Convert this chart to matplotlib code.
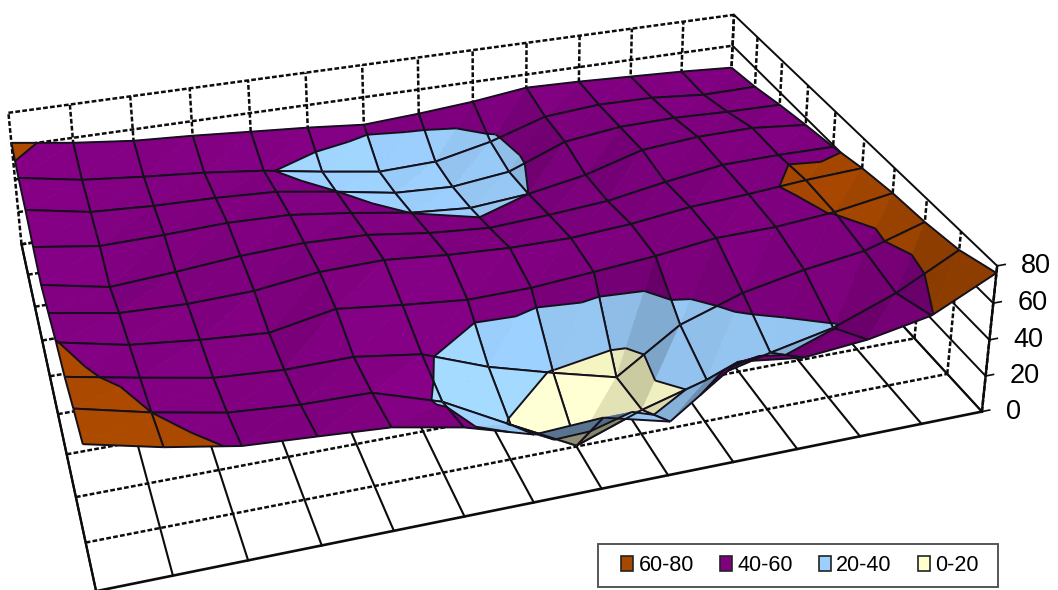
import numpy as np
import matplotlib
matplotlib.use("Agg")
import matplotlib.pyplot as plt
from matplotlib.patches import Patch, Rectangle
from mpl_toolkits.mplot3d.art3d import Poly3DCollection, Line3DCollection

plt.rcParams['font.family'] = ['Liberation Sans', 'DejaVu Sans']

# surface values: rows run front (y=0) to back (y=9), columns left to right
z_row0 = [73.6, 65.0, 58.5, 56.2, 53.8, 46.8, 36.1, 38.0, 29.0, 54.1, 49.7, 52.9, 59.5, 76.2]
z_row1 = [68.8, 60.0, 53.0, 50.3, 49.7, 38.2, 19.0, 0.5, 13.3, 23.2, 31.6, 39.0, 52.0, 69.8]
z_row2 = [63.3, 56.2, 49.5, 47.1, 47.5, 42.4, 29.0, 19.1, 10.0, 33.1, 44.8, 51.7, 56.5, 67.0]
z_row3 = [60.3, 52.6, 48.9, 46.3, 53.1, 49.1, 45.8, 46.4, 49.3, 52.4, 56.8, 57.4, 60.3, 65.7]
z_row4 = [55.8, 49.6, 48.4, 49.5, 54.0, 54.8, 51.8, 50.0, 49.9, 52.3, 56.5, 58.5, 61.3, 63.0]
z_row5 = [51.6, 44.4, 46.9, 50.0, 51.6, 50.5, 45.9, 43.2, 45.2, 47.9, 53.7, 58.5, 59.2, 58.9]
z_row6 = [53.9, 48.7, 49.3, 50.6, 49.6, 45.2, 39.8, 37.1, 40.0, 46.1, 55.9, 58.7, 59.1, 55.9]
z_row7 = [56.9, 50.2, 48.2, 47.4, 45.6, 40.2, 34.1, 32.4, 36.3, 49.5, 53.6, 54.2, 53.0, 52.5]
z_row8 = [58.1, 51.6, 48.1, 45.2, 41.1, 35.2, 29.9, 30.9, 38.2, 48.9, 51.5, 51.0, 48.1, 48.4]
z_row9 = [62.1, 57.0, 53.1, 51.1, 48.5, 46.0, 42.8, 44.8, 47.5, 51.6, 50.7, 49.2, 47.7, 45.6]
z_ticks = [0, 20, 40, 60, 80]
band_labels = ['60-80', '40-60', '20-40', '0-20']
band_colors = ['#A84800', '#800080', '#9CCFFD', '#FFFFCC']
band_limits = [(60, 80), (40, 60), (20, 40), (0, 20)]

Z = np.array([z_row0, z_row1, z_row2, z_row3, z_row4, z_row5, z_row6, z_row7, z_row8, z_row9], float)
nrow, ncol = Z.shape

# camera calibration: axis positions (x, y, z) and where the box corners sit in the image
front_u = [95, 172, 246, 319, 391, 462, 535, 604, 670, 734, 798, 860, 921, 981]
front_v = [590, 577, 560, 546, 531, 517, 503, 489, 475, 462, 449, 435, 423, 410]
back_u = [10, 70, 130, 190, 247, 304, 360, 415, 468, 522, 581, 634, 683, 735]
back_v = [112, 105, 97, 88, 81, 73, 66, 57, 50, 43, 35, 28, 22, 15]
side_u = [996, 961, 926, 895, 865, 835, 809, 782, 757, 735]
side_v = [267, 230, 198, 168, 140, 112, 86, 62, 37, 15]
axis_u = [981, 986, 990, 993, 996]
axis_v = [410, 376, 338, 302, 267]
world, image = [], []
for i in range(ncol):
    world.append((i, 0, 0)); image.append((front_u[i], front_v[i]))
    world.append((i, 9, 80)); image.append((back_u[i], back_v[i]))
for j in range(nrow):
    world.append((13, j, 80)); image.append((side_u[j], side_v[j]))
for k, t in enumerate(z_ticks):
    world.append((13, 0, t)); image.append((axis_u[k], axis_v[k]))
for w_, im_ in [((0, 1, 0), (86, 544)), ((0, 2, 0), (77, 498)), ((0, 3, 0), (68, 455)),
                ((13, 1, 0), (946, 375)), ((13, 2, 0), (913, 340)),
                ((13, 9, 60), (735, 47)), ((0, 9, 60), (14, 142)),
                ((0, 0, 73.6), (82, 445)), ((0, 3, 60.6), (57, 342)), ((0, 6, 53.9), (35, 247)),
                ((9, 3, 52.4), (660, 256)), ((6, 4, 51.8), (452, 255)), ((11, 2, 51.7), (808, 270))]:
    world.append(w_); image.append(im_)

A, b = [], []
for (x, y, z), (u, v) in zip(world, image):
    A.append([x, y, z, 1, 0, 0, 0, 0, -u * x, -u * y, -u * z]); b.append(u)
    A.append([0, 0, 0, 0, x, y, z, 1, -v * x, -v * y, -v * z]); b.append(v)
p = np.linalg.lstsq(np.array(A, float), np.array(b, float), rcond=None)[0]
P = np.append(p, 1.0).reshape(3, 4)
if P[2] @ np.array([6, 4, 40, 1]) < 0:
    P = -P
P = P / (P[2] @ np.array([6, 4, 40, 1]))
camera = -np.linalg.solve(P[:, :3], P[:, 3])

W, H = 1058, 590
fig = plt.figure(figsize=(W / 100, H / 100), dpi=100, facecolor='white')
ax = fig.add_axes([0, 0, 1, 1], projection='3d', computed_zorder=False)
ax.set_axis_off()
ax.patch.set_visible(False)


def get_proj():
    T = np.linalg.inv(ax.transData.get_affine().get_matrix())
    disp = np.vstack([P[0], H * P[2] - P[1], P[2]])
    q = T @ disp
    return np.vstack([q[0], q[1], [0, 0, 0, -1], q[2]])


ax.get_proj = get_proj


def project(pt):
    h = P @ np.append(pt, 1.0)
    return h[:2] / h[2]


def line(xs, ys, zs, dashed=False, lw=1.5, z=1):
    style = dict(color='#0c0c0c', lw=lw, zorder=z, clip_on=False)
    if dashed:
        style['linestyle'] = (0, (1.9, 0.9))
        style['lw'] = 1.8
    ax.plot(xs, ys, zs, **style)


# back wall, right wall and floor
for t in z_ticks:
    line([0, ncol - 1], [nrow - 1, nrow - 1], [t, t], dashed=True)
    line([ncol - 1, ncol - 1], [0, nrow - 1], [t, t], lw=1.4)
for i in range(ncol):
    line([i, i], [nrow - 1, nrow - 1], [0, 80], dashed=True)
    line([i, i], [0, nrow - 1], [0, 0], lw=1.5)
for j in range(nrow):
    line([ncol - 1, ncol - 1], [j, j], [0, 80], dashed=True)
    if j > 0:
        line([0, ncol - 1], [j, j], [0, 0], dashed=True)
line([0, ncol - 1], [0, 0], [0, 0], lw=1.9)
line([0, 0], [0, nrow - 1], [0, 0], lw=1.7)
line([ncol - 1, ncol - 1], [0, 0], [0, 80], lw=1.7)
for t in z_ticks:
    line([ncol - 1, ncol - 0.87], [0, 0], [t, t], lw=1.2)
    u, v = project(np.array([ncol - 1, 0, t], float))
    fig.text((u + 24) / W, 1 - v / H, str(t), fontsize=19.5, ha='left', va='center')


def clip_band(poly, lo, hi):
    for lim, sign in ((lo, 1), (hi, -1)):
        out = []
        n = len(poly)
        for i in range(n):
            a, c = poly[i], poly[(i + 1) % n]
            da, dc = sign * (a[2] - lim), sign * (c[2] - lim)
            if da >= 0:
                out.append(a)
            if da * dc < 0:
                out.append(a + (c - a) * da / (da - dc))
        poly = out
        if len(poly) < 3:
            return []
    return poly


light = np.array([0.45, -0.2, 0.87])
light = light / np.linalg.norm(light)


def shade(tri):
    s = np.array(tri, float)
    s[:, 2] /= 35.0
    n = np.cross(s[1] - s[0], s[2] - s[0])
    n = n / np.linalg.norm(n)
    if n[2] < 0:
        n = -n
    f = 1 + 0.5 * (n @ light - light[2])
    a, c, d = [project(v) for v in tri]
    flat = [project(np.array([v[0], v[1], 0.0])) for v in tri]
    area = np.cross(c - a, d - a)
    area0 = np.cross(flat[1] - flat[0], flat[2] - flat[0])
    if area * area0 < 0:
        f *= 0.72
    return float(np.clip(f, 0.45, 1.06))


cells = [(i, j) for j in range(nrow - 1) for i in range(ncol - 1)]
cells.sort(key=lambda c: -np.hypot(c[0] + 0.5 - camera[0], c[1] + 0.5 - camera[1]))
rgb = [np.array(matplotlib.colors.to_rgb(c)) for c in band_colors]

for order, (i, j) in enumerate(cells):
    corners = [np.array([i + a, j + b_, Z[j + b_, i + a]], float) for a, b_ in ((0, 0), (1, 0), (1, 1), (0, 1))]
    tris = [(corners[0], corners[1], corners[2]), (corners[0], corners[2], corners[3])]
    polys, colors = [], []
    segs = [[corners[k], corners[(k + 1) % 4]] for k in range(4)]
    for tri in tris:
        f = shade(tri)
        for (lo, hi), col in zip(band_limits, rgb):
            part = clip_band(list(tri), lo, hi)
            if part:
                polys.append([tuple(v) for v in part])
                colors.append(tuple(np.clip(col * f, 0, 1)))
        for level in (20.0, 40.0, 60.0):
            pts = []
            for k in range(3):
                a, c = tri[k], tri[(k + 1) % 3]
                da, dc = a[2] - level - 1e-3, c[2] - level - 1e-3
                if da * dc < 0:
                    pts.append(a + (c - a) * da / (da - dc))
            if len(pts) == 2:
                segs.append(pts)
    col = Poly3DCollection(polys, facecolors=colors, edgecolors=colors, linewidths=0.5)
    col.set_zorder(10 + 2 * order)
    col.set_clip_on(False)
    ax.add_collection3d(col, autolim=False)
    mesh = Line3DCollection(segs, colors='#14101c', linewidths=1.4)
    mesh.set_zorder(11 + 2 * order)
    mesh.set_clip_on(False)
    ax.add_collection3d(mesh, autolim=False)

# legend box
fig.add_artist(Rectangle((598 / W, (H - 587) / H), 400 / W, 43 / H, transform=fig.transFigure,
                         facecolor='white', edgecolor='#555555', lw=1.4, zorder=3))
handles = [Patch(facecolor=c, edgecolor='#222222', lw=1.2) for c in band_colors]
fig.legend(handles, band_labels, loc='center', bbox_to_anchor=(800 / W, (H - 565.5) / H),
           ncol=4, frameon=False, fontsize=15.5, handlelength=0.56, handleheight=0.75,
           handletextpad=0.25, columnspacing=1.2, borderpad=0, borderaxespad=0)

fig.savefig('out.png', dpi=100, facecolor='white')
